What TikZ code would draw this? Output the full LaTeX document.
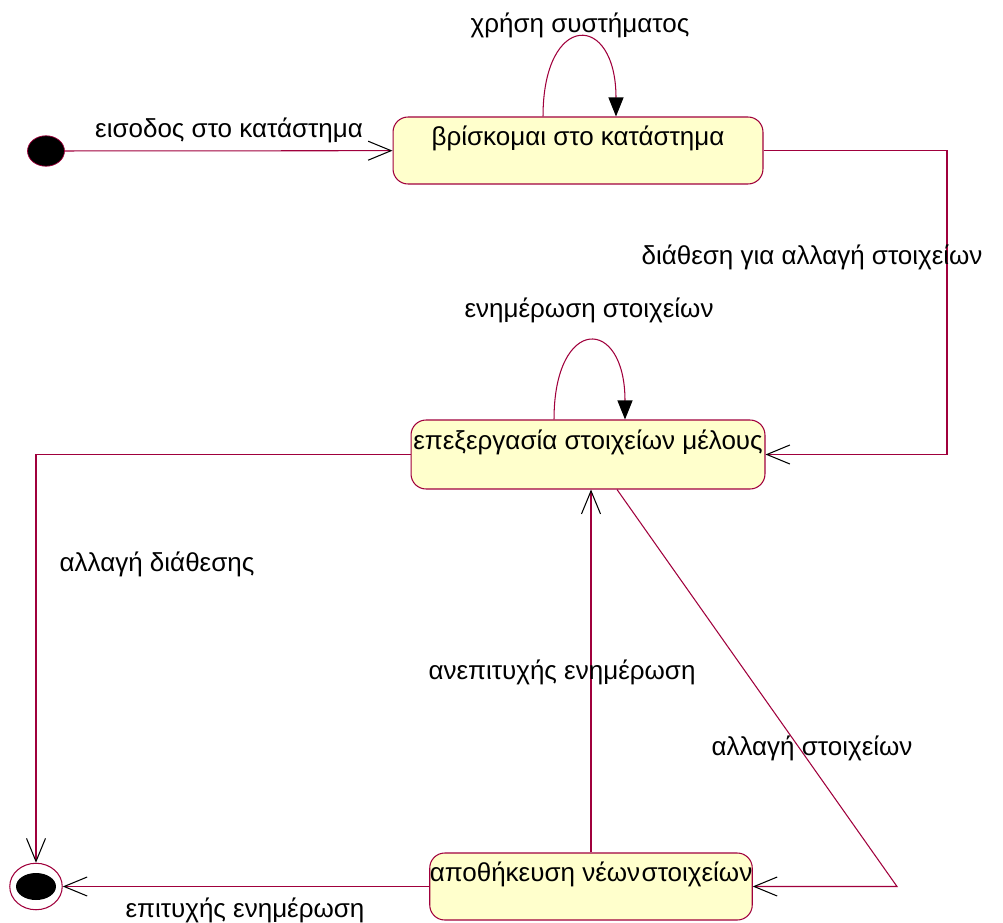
\documentclass[tikz,border=0pt]{standalone}
\usepackage{fontspec}
\setmainfont{Liberation Sans}
\usetikzlibrary{arrows.meta,shapes.geometric}
\definecolor{umlline}{RGB}{160,0,60}
\definecolor{umlfill}{RGB}{255,255,204}
\begin{document}
\begin{tikzpicture}[x=0.02cm,y=-0.02cm,
    font=\fontsize{14.8}{17}\selectfont,
    statebox/.style={draw=umlline,fill=umlfill,rounded corners=0.3cm,inner sep=0pt,
        text height=0.37cm,text depth=0.57cm,line width=0.6pt},
    trans/.style={draw=umlline,line width=0.6pt,
        -{Straight Barb[length=0.46cm,width=0.38cm,color=black,line width=0.6pt]}},
    selfloop/.style={draw=umlline,line width=0.6pt,
        -{Triangle[length=0.38cm,width=0.3cm,color=black]}},
    tlabel/.style={inner sep=1pt}]
    \useasboundingbox (0,0) rectangle (1003,922);

    % start and end
    \node[ellipse,draw=umlline,fill=black,minimum width=0.74cm,minimum height=0.61cm,inner sep=0pt] (start) at (46,151) {};
    \node[ellipse,draw=umlline,fill=white,minimum width=1.05cm,minimum height=0.93cm,inner sep=0pt,line width=0.6pt] (final) at (36,886.5) {};
    \fill (final.center) ellipse [x radius=0.4cm,y radius=0.27cm];

    % states
    \node[statebox,minimum width=7.4cm,minimum height=1.34cm] (found) at (578,150.5) {βρίσκομαι στο κατάστημα};
    \node[statebox,minimum width=7.08cm,minimum height=1.38cm] (edit) at (588,454.5) {επεξεργασία στοιχείων μέλους};
    \node[statebox,minimum width=6.44cm,minimum height=1.34cm] (store) at (591,886.5) {αποθήκευση νέων\hspace{0.06em}στοιχείων};

    \coordinate (rbend) at (947,150.5);
    \coordinate (dbend) at (897,886.5);

    % transitions
    \draw[trans] (start) -- (found);
    \draw[selfloop] ([xshift=-0.7cm]found.north) .. controls +(0,2.1cm) and +(0,2.1cm) .. ([xshift=0.76cm]found.north);
    \draw[trans] (found.east) -- (rbend) |- (edit.east);
    \draw[selfloop] ([xshift=-0.68cm]edit.north) .. controls +(0,2.08cm) and +(0,2.08cm) .. ([xshift=0.74cm]edit.north);
    \draw[trans] (edit.west) -| (final.north);
    \draw[trans] (store.north) -- (store.north |- edit.south);
    \draw[trans] ([xshift=0.58cm]edit.south) -- (dbend) -- (store.east);
    \draw[trans] (store.west) -- (final.east);

    % labels
    \node[tlabel] (l1) at (229,130) {εισοδος στο κατάστημα};
    \node[tlabel] (l2) at (580,25) {χρήση συστήματος};
    \node[tlabel] (l3) at (812,257) {διάθεση για αλλαγή στοιχείων};
    \node[tlabel] (l4) at (589,310) {ενημέρωση στοιχείων};
    \node[tlabel] (l5) at (157,564) {αλλαγή διάθεσης};
    \node[tlabel] (l6) at (562,672) {ανεπιτυχής ενημέρωση};
    \node[tlabel] (l7) at (812,748) {αλλαγή στοιχείων};
    \node[tlabel] (l8) at (245,910) {επιτυχής ενημέρωση};
\end{tikzpicture}
\end{document}
